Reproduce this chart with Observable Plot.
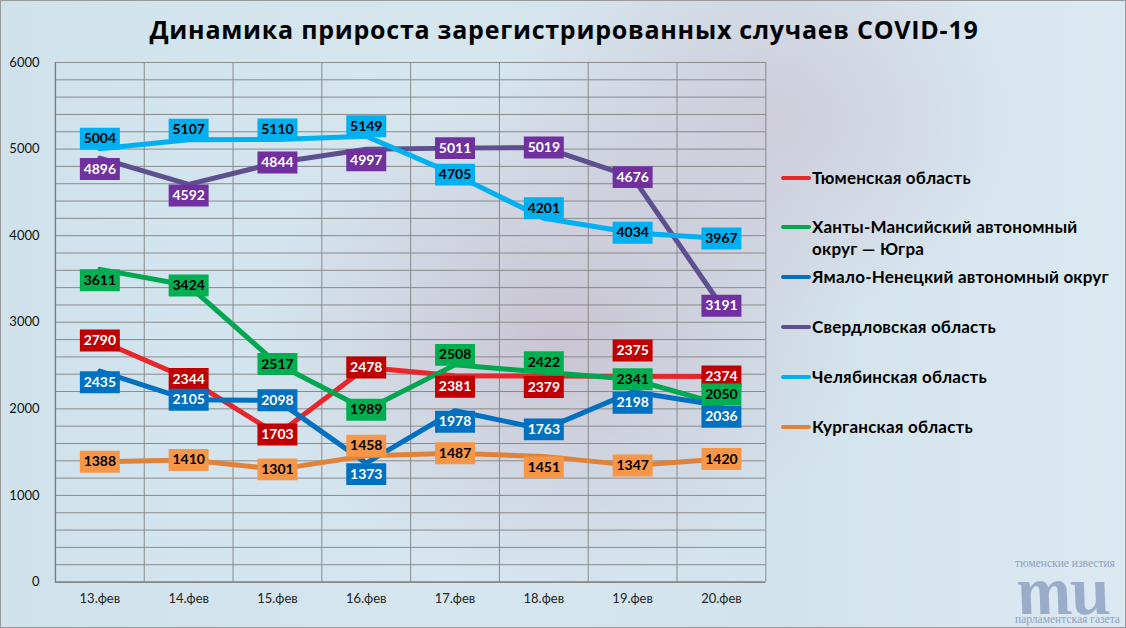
<!DOCTYPE html>
<html>
<head>
<meta charset="utf-8">
<script src="https://cdn.jsdelivr.net/npm/d3@7"></script>
<script src="https://cdn.jsdelivr.net/npm/@observablehq/plot@0.6"></script>
<style>
  html, body { margin: 0; padding: 0; }
  #page {
    position: relative; width: 1126px; height: 628px; overflow: hidden; box-sizing: border-box;
    border: 1px solid #9a9a9a;
    background:
      radial-gradient(ellipse 300px 260px at 560px 330px, rgba(200,190,205,0.85), rgba(200,190,205,0) 100%),
      radial-gradient(ellipse 260px 200px at 760px 120px, rgba(205,195,210,0.7), rgba(205,195,210,0) 100%),
      linear-gradient(90deg, #cfe2ec 0%, #d6e6ef 40%, #d3e3ec 70%, #dbe9f1 100%);
    font-family: Lato, "Open Sans", sans-serif;
  }
  #title {
    position: absolute; left: 0; top: 11px; width: 1126px; text-align: center;
    font-family: "Open Sans", Lato, sans-serif; font-weight: 700; font-size: 25px; letter-spacing: 0.75px; color: #000;
  }
  #chart { position: absolute; left: -1px; top: 49px; }
  #legend { position: absolute; left: 780px; top: 0; }
  .item { position: absolute; left: 0; white-space: nowrap; font-weight: 700; font-size: 17px; letter-spacing: 0.2px; color: #000; line-height: 22px; }
  .sw { display: inline-block; width: 30px; height: 4px; border-radius: 2px; vertical-align: middle; margin-right: 1px; position: relative; top: -2px; }
  .wm { position: absolute; color: #7f95ba; font-family: "Liberation Serif", "DejaVu Serif", serif; white-space: nowrap; line-height: 1; }
</style>
</head>
<body>
<div id="page">
  <div id="title">Динамика прироста зарегистрированных случаев COVID-19</div>
  <div id="chart"></div>
  <div id="legend"></div>
  <div class="wm" style="left:1014px; top:557px; font-size:11.5px; opacity:0.85;">тюменские известия</div>
  <div class="wm" style="left:1020px; top:555px; height:58px; font-size:70px; font-weight:700; font-style:italic; opacity:0.7; letter-spacing:-1px; transform: skewX(12deg); transform-origin: 0 100%;">ти</div>
  <div class="wm" style="left:1014px; top:613px; font-size:11.5px; opacity:0.85;">парламентская газета</div>
</div>
<script>
// ---- data ----
const dates = ["13.фев", "14.фев", "15.фев", "16.фев", "17.фев", "18.фев", "19.фев", "20.фев"];
const seriesNames = [
  "Тюменская область",
  "Ханты-Мансийский автономный округ — Югра",
  "Ямало-Ненецкий автономный округ",
  "Свердловская область",
  "Челябинская область",
  "Курганская область"
];
const tyumen      = [2790, 2344, 1703, 2478, 2381, 2379, 2375, 2374];
const khmao       = [3611, 3424, 2517, 1989, 2508, 2422, 2341, 2050];
const yanao       = [2435, 2105, 2098, 1373, 1978, 1763, 2198, 2036];
const sverdlovsk  = [4896, 4592, 4844, 4997, 5011, 5019, 4676, 3191];
const chelyabinsk = [5004, 5107, 5110, 5149, 4705, 4201, 4034, 3967];
const kurgan      = [1388, 1410, 1301, 1458, 1487, 1451, 1347, 1420];
const yTicks = [0, 1000, 2000, 3000, 4000, 5000, 6000];

// label placement (tt = well above, t = above, c = centred, b = below the point)
const labelPlacement = [
  ["c","c","c","c","b","b","tt","c"],
  ["b","c","c","c","t","t","c","t"],
  ["b","c","c","b","b","c","b","b"],
  ["b","b","c","b","c","c","c","c"],
  ["t","t","t","t","c","t","c","c"],
  ["c","c","c","t","c","b","c","c"]
];

// ---- styles ----
const lineColors = ["#e8262b", "#00a650", "#0070c0", "#5e4f8f", "#00b0f0", "#e0823a"];
const boxColors  = ["#c00000", "#00b050", "#0070c0", "#7030a0", "#00b0f0", "#f79646"];
const textColors = ["#ffffff", "#000000", "#ffffff", "#ffffff", "#000000", "#000000"];
const placeDy = {tt: -26, t: -10, c: 0, b: 11};

const valuesList = [tyumen, khmao, yanao, sverdlovsk, chelyabinsk, kurgan];
const rows = [];
valuesList.forEach((vals, s) => vals.forEach((v, i) => rows.push({s, i, value: v, pos: labelPlacement[s][i]})));

const boxSymbol = { draw(ctx) { ctx.moveTo(-20, -11); ctx.lineTo(20, -11); ctx.lineTo(20, 11); ctx.lineTo(-20, 11); ctx.closePath(); } };

const marks = [
  Plot.ruleY(d3.range(0, 6001, 200), {stroke: "#8a8a8a", strokeWidth: 1}),
  Plot.ruleX(d3.range(dates.length + 1).map(i => i - 0.5), {stroke: "#8a8a8a", strokeWidth: 1}),
  Plot.ruleX([-0.5], {stroke: "#7a7a7a", strokeWidth: 1.3}),
  Plot.ruleY([0], {stroke: "#7a7a7a", strokeWidth: 1.3}),
  Plot.axisX({ticks: d3.range(dates.length), tickFormat: i => dates[i], tickSize: 0, tickPadding: 12, fontSize: 13, fill: "#222", label: null}),
  Plot.axisY({ticks: yTicks, tickFormat: d => String(d), tickSize: 0, tickPadding: 16, fontSize: 13, fill: "#111", label: null})
];
seriesNames.forEach((name, s) => {
  marks.push(Plot.line(rows.filter(d => d.s === s), {x: "i", y: "value", stroke: lineColors[s], strokeWidth: 5, strokeLinejoin: "round"}));
});
seriesNames.forEach((name, s) => {
  for (const p of ["tt", "t", "c", "b"]) {
    const sub = rows.filter(d => d.s === s && d.pos === p);
    if (!sub.length) continue;
    marks.push(Plot.dot(sub, {x: "i", y: "value", symbol: boxSymbol, fill: boxColors[s], stroke: "none", r: 10, dy: placeDy[p]}));
    marks.push(Plot.text(sub, {x: "i", y: "value", text: d => String(d.value), fill: textColors[s], fontSize: 14, fontWeight: 700, fontFamily: "Lato, 'Open Sans', sans-serif", dy: placeDy[p]}));
  }
});

const chart = Plot.plot({
  width: 1126,
  height: 578,
  marginLeft: 55,
  marginRight: 360,
  marginTop: 12,
  marginBottom: 46,
  x: {type: "linear", domain: [-0.5, dates.length - 0.5]},
  y: {domain: [0, 6000]},
  style: {background: "transparent", fontFamily: "Lato, 'Open Sans', sans-serif", overflow: "visible"},
  marks
});
document.getElementById("chart").appendChild(chart);

// ---- legend ----
const legendTops = [166, 215, 265, 315, 365, 415];
const legend = document.getElementById("legend");
seriesNames.forEach((name, s) => {
  const div = document.createElement("div");
  div.className = "item";
  div.style.top = legendTops[s] + "px";
  const sw = document.createElement("span");
  sw.className = "sw";
  sw.style.background = lineColors[s];
  div.appendChild(sw);
  if (s === 1) {
    div.appendChild(document.createTextNode("Ханты-Мансийский автономный"));
    div.appendChild(document.createElement("br"));
    const t2 = document.createElement("span");
    t2.style.marginLeft = "31px";
    t2.textContent = "округ — Югра";
    div.appendChild(t2);
  } else {
    div.appendChild(document.createTextNode(name));
  }
  legend.appendChild(div);
});
</script>
</body>
</html>
